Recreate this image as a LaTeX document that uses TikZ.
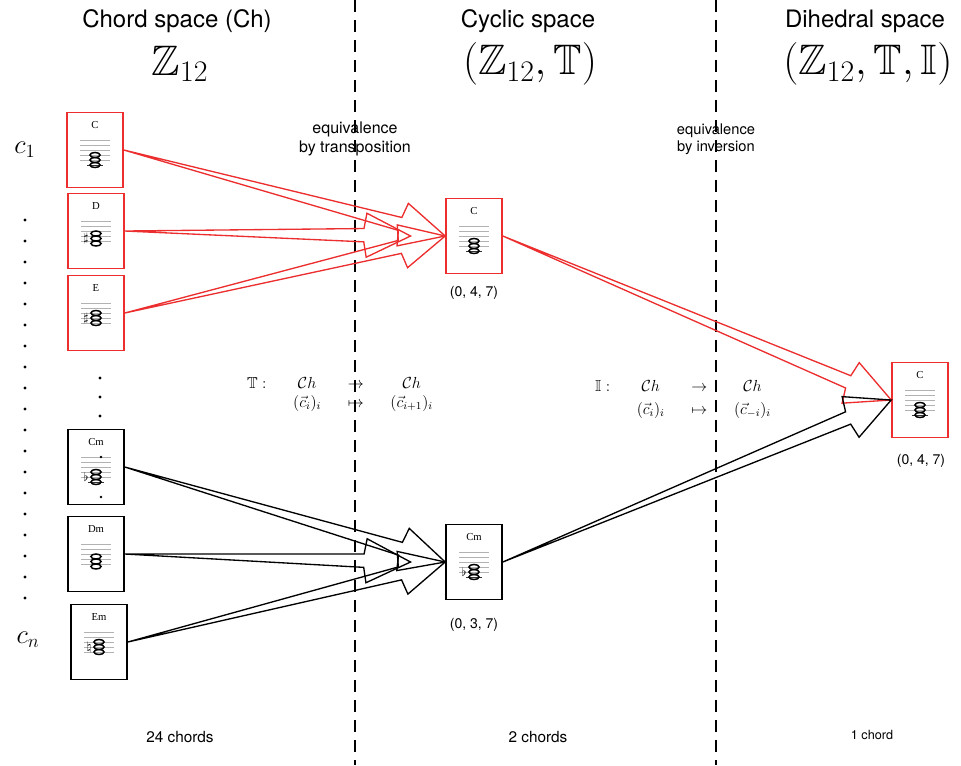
\documentclass[tikz,border=0pt]{standalone}
\usepackage{fix-cm}
\usepackage{amssymb}
\usepackage[no-math]{fontspec}
\setmainfont{TeX Gyre Heros}
\newfontfamily\chordfont{Liberation Serif}
\usepackage{tikz}
\usetikzlibrary{calc}
\definecolor{boxred}{RGB}{236,46,46}

% staff with a three note chord inside a box: node, name, position/accidental
\newcommand{\chordstaff}[3]{%
  \begin{scope}[shift={(#1.center)}]
    \node[chordname] at (0,-25) {#2};
    \foreach \k in {0,...,4}
      \draw[staffline] (-15,10-5*\k) -- (15,10-5*\k);
    \foreach \p/\s in {#3} {
      \ifnum\p<-1 \draw[staffline,black!80] (-8,15) -- (8,15); \fi
      \draw[notehead] (0,10-2.5*\p) ellipse [x radius=3.8pt, y radius=1.9pt];
      \node[accid] at (-10,10-2.5*\p) {$\s$};
    }
  \end{scope}}

% hollow tapered arrow from #2 to #3
\newcommand{\chordarrow}[3][black]{%
  \draw[hollow,#1] let \p1=(#2), \p2=(#3), \n1={atan2(\y2-\y1,\x2-\x1)} in
    (\p1) -- ($(\p2)+(\n1+180:35pt)+(\n1+90:5pt)$)
    -- ($(\p2)+(\n1+180:33pt)+(\n1+90:16.5pt)$) -- (\p2)
    -- ($(\p2)+(\n1+180:33pt)+(\n1-90:16.5pt)$)
    -- ($(\p2)+(\n1+180:35pt)+(\n1-90:5pt)$) -- cycle;}

\begin{document}
\begin{tikzpicture}[x=0.75pt, y=-0.75pt,
    chordbox/.style={draw, line width=1.2pt, minimum width=42pt, minimum height=56pt, inner sep=0pt},
    redbox/.style={chordbox, draw=boxred},
    blackbox/.style={chordbox, draw=black},
    chordname/.style={font=\chordfont\fontsize{8}{9}\selectfont, inner sep=0pt},
    staffline/.style={gray!60, line width=0.5pt},
    notehead/.style={line width=1.1pt},
    accid/.style={font=\fontsize{9}{10}\selectfont, inner sep=0pt},
    heading/.style={font=\fontsize{18}{20}\selectfont, inner sep=1pt},
    bigmath/.style={font=\fontsize{32}{36}\selectfont, inner sep=1pt},
    remark/.style={align=center},
    tuple/.style={font=\fontsize{10.5}{12}\selectfont},
    chordcount/.style={font=\fontsize{11.5}{13}\selectfont},
    divider/.style={line width=1.1pt, dash pattern=on 9pt off 6pt},
    hollow/.style={line width=1pt, line join=miter}]
    \useasboundingbox (0,0) rectangle (961,765);

    \draw[divider] (355,0) -- (355,765);
    \draw[divider] (716,0) -- (716,765);

    \node[heading] (h1) at (177,21) {Chord space (Ch)};
    \node[bigmath] (z1) at (180,64) {$\mathbb{Z}_{12}$};
    \node[heading] (h2) at (528,21) {Cyclic space};
    \node[bigmath] (z2) at (530,64) {$(\mathbb{Z}_{12},\mathbb{T})$};
    \node[heading] (h3) at (865,21) {Dihedral space};
    \node[bigmath] (z3) at (868,64) {$(\mathbb{Z}_{12},\mathbb{T},\mathbb{I})$};

    \node[remark, font=\fontsize{12}{14}\selectfont] (eq1) at (355,139) {equivalence\\by transposition};
    \node[remark, font=\fontsize{11}{13}\selectfont] (eq2) at (716,139) {equivalence\\by inversion};

    \node[font=\fontsize{20}{24}\selectfont] (c1) at (25,150) {$c_1$};
    \node[font=\fontsize{20}{24}\selectfont] (cn) at (28,640) {$c_n$};
    \foreach \y in {220,241,...,600}
      \fill (25,\y) circle [radius=1.2pt];
    \foreach \y in {378,397,416}
      \fill (100,\y) circle [radius=1.2pt];

    \node[redbox] (C1) at (95,150) {};
    \node[redbox] (D1) at (96,231) {};
    \node[redbox] (E1) at (96,313) {};
    \node[blackbox] (Cm1) at (96,467) {};
    \node[blackbox] (Dm1) at (96,554) {};
    \node[blackbox] (Em1) at (99,642) {};
    \node[redbox] (Cc) at (474,236) {};
    \node[blackbox] (Cmc) at (474,562) {};
    \node[redbox] (Cd) at (920,400) {};

    \chordstaff{C1}{C}{-2/{},0/{},2/{}}
    \chordstaff{D1}{D}{-1/{},1/\sharp,3/{}}
    \chordstaff{E1}{E}{0/{},2/\sharp,4/{}}
    \chordstaff{Cm1}{Cm}{-2/{},0/\flat,2/{}}
    \chordstaff{Dm1}{Dm}{-1/{},1/{},3/{}}
    \chordstaff{Em1}{Em}{0/{},2/\natural,4/{}}
    \chordstaff{Cc}{C}{-2/{},0/{},2/{}}
    \chordstaff{Cmc}{Cm}{-2/{},0/\flat,2/{}}
    \chordstaff{Cd}{C}{-2/{},0/{},2/{}}
    \fill ([shift={(5,-10)}]Cm1.center) circle [radius=1pt];
    \fill ([shift={(5,30)}]Cm1.center) circle [radius=1pt];

    \node[tuple] (t1) at (474,293) {(0, 4, 7)};
    \node[tuple] (t2) at (474,625) {(0, 3, 7)};
    \node[tuple] (t3) at (921,461) {(0, 4, 7)};

    \node[font=\fontsize{12}{14}\selectfont] (mapT) at (340,394)
      {$\setlength\arraycolsep{10pt}\begin{array}{cccc}
        \mathbb{T}: & \mathcal{C}h & \to & \mathcal{C}h\\
        & (\vec{c}_i)_i & \mapsto & (\vec{c}_{i+1})_i
      \end{array}$};
    \node[font=\fontsize{12}{14}\selectfont] (mapI) at (683,399)
      {$\setlength\arraycolsep{10pt}\begin{array}{cccc}
        \mathbb{I}: & \mathcal{C}h & \to & \mathcal{C}h\\[3pt]
        & (\vec{c}_i)_i & \mapsto & (\vec{c}_{-i})_i
      \end{array}$};

    \chordarrow[boxred]{C1.east}{Cc.west}
    \chordarrow[boxred]{D1.east}{[xshift=-26pt]Cc.west}
    \chordarrow[boxred]{E1.east}{Cc.west}
    \chordarrow{Cm1.east}{Cmc.west}
    \chordarrow{Dm1.east}{[xshift=-26pt]Cmc.west}
    \chordarrow{Em1.east}{Cmc.west}
    \chordarrow[boxred]{Cc.east}{Cd.west}
    \chordarrow{Cmc.east}{Cd.west}

    \node[chordcount] (n1) at (180,737) {24 chords};
    \node[chordcount] (n2) at (538,737) {2 chords};
    \node[chordcount, font=\fontsize{9.5}{11}\selectfont] (n3) at (872,735) {1 chord};
\end{tikzpicture}
\end{document}
